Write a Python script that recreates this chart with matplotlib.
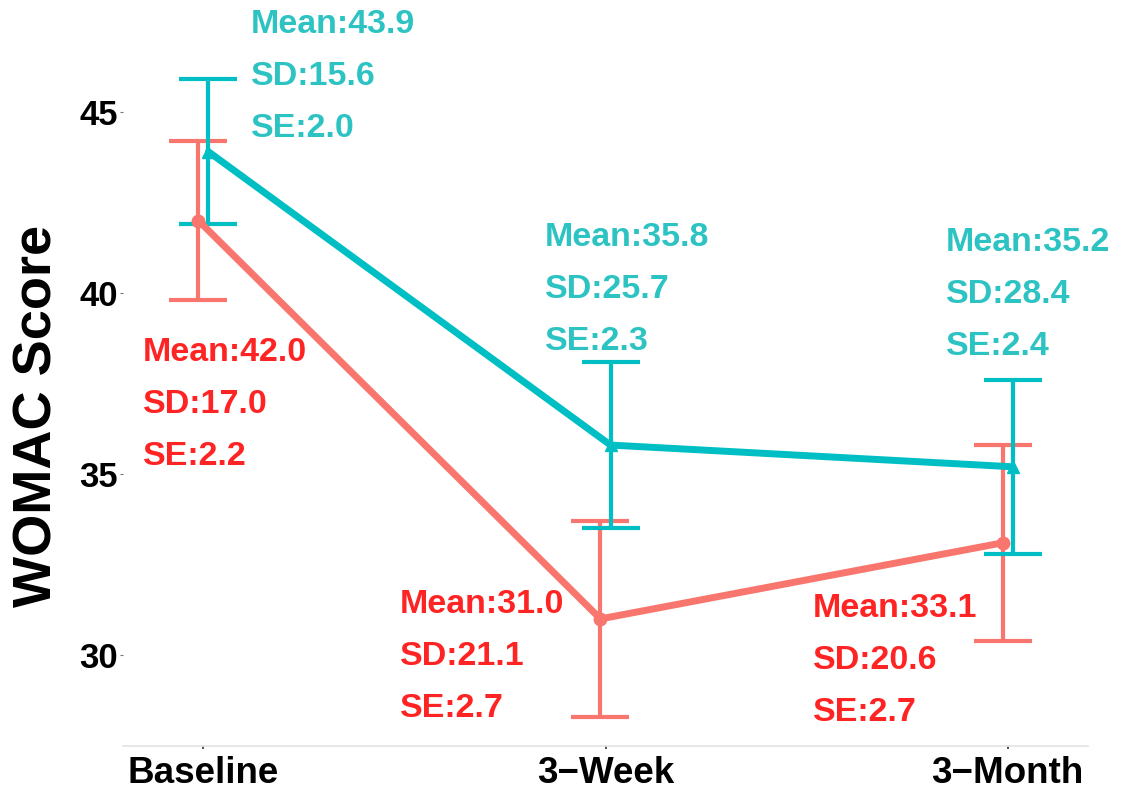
import numpy as np
import matplotlib
matplotlib.use('Agg')
import matplotlib.pyplot as plt

plt.rcParams['font.family'] = ['Liberation Sans', 'DejaVu Sans']

# WOMAC scores per visit, two groups
timepoints = ["Baseline", "3\u2212Week", "3\u2212Month"]
red_mean = [42.0, 31.0, 33.1]
red_sd = [17.0, 21.1, 20.6]
red_se = [2.2, 2.7, 2.7]
teal_mean = [43.9, 35.8, 35.2]
teal_sd = [15.6, 25.7, 28.4]
teal_se = [2.0, 2.3, 2.4]

# label anchors (left x, y of first line) in data units
red_label_xy = [(0.850, 38.35), (1.489, 31.41), (2.516, 31.30)]
teal_label_xy = [(1.118, 47.41), (1.850, 41.52), (2.847, 41.39)]

RED_LINE, TEAL_LINE = '#F8766D', '#00BFC4'
RED_TEXT, TEAL_TEXT = '#FF2424', '#2EC3C3'

fig = plt.figure(figsize=(11.26, 7.92), dpi=100)
ax = fig.add_axes([123 / 1126, 46 / 792, 965 / 1126, 746 / 792])

x = np.arange(1, len(timepoints) + 1)
dodge = 0.0125


def draw_group(xpos, mean, se, color, marker):
    ax.errorbar(xpos, mean, yerr=se, color=color, lw=3.0, capsize=21,
                capthick=3.0, fmt='none', zorder=2)
    ax.plot(xpos, mean, color=color, lw=5, marker=marker, markersize=9,
            solid_capstyle='round', zorder=3)


draw_group(x - dodge, red_mean, red_se, RED_LINE, 'o')
draw_group(x + dodge, teal_mean, teal_se, TEAL_LINE, '^')


def draw_labels(anchors, mean, sd, se, color):
    step = 52 / 36.2  # line spacing in data units
    for (lx, ly), m, s, e in zip(anchors, mean, sd, se):
        lines = [f"Mean:{m:.1f}", f"SD:{s:.1f}", f"SE:{e:.1f}"]
        for i, txt in enumerate(lines):
            ax.text(lx, ly - i * step, txt, color=color, fontsize=24.5,
                    fontweight='bold', ha='left', va='center', zorder=4)


draw_labels(red_label_xy, red_mean, red_sd, red_se, RED_TEXT)
draw_labels(teal_label_xy, teal_mean, teal_sd, teal_se, TEAL_TEXT)

ax.set_xlim(0.8, 3.2)
ax.set_ylim(27.49, 48.09)
ax.set_xticks(x)
ax.set_xticklabels(timepoints, fontsize=26.5, fontweight='bold')
ax.set_yticks([30, 35, 40, 45])
ax.set_yticklabels(['30', '35', '40', '45'], fontsize=25, fontweight='bold')
ax.set_ylabel("WOMAC Score", fontsize=39, fontweight='bold', va='center')
ax.yaxis.set_label_coords(-85 / 965, 0.442)

for side in ['top', 'right', 'left']:
    ax.spines[side].set_visible(False)
ax.spines['bottom'].set_color('#E3E3E3')
ax.spines['bottom'].set_linewidth(1.2)
ax.tick_params(axis='y', length=2.5, width=0.8, color='#777777', pad=1)
ax.tick_params(axis='x', length=2.5, width=1.2, color='#333333', pad=5)

fig.savefig('out.png', dpi=100)
